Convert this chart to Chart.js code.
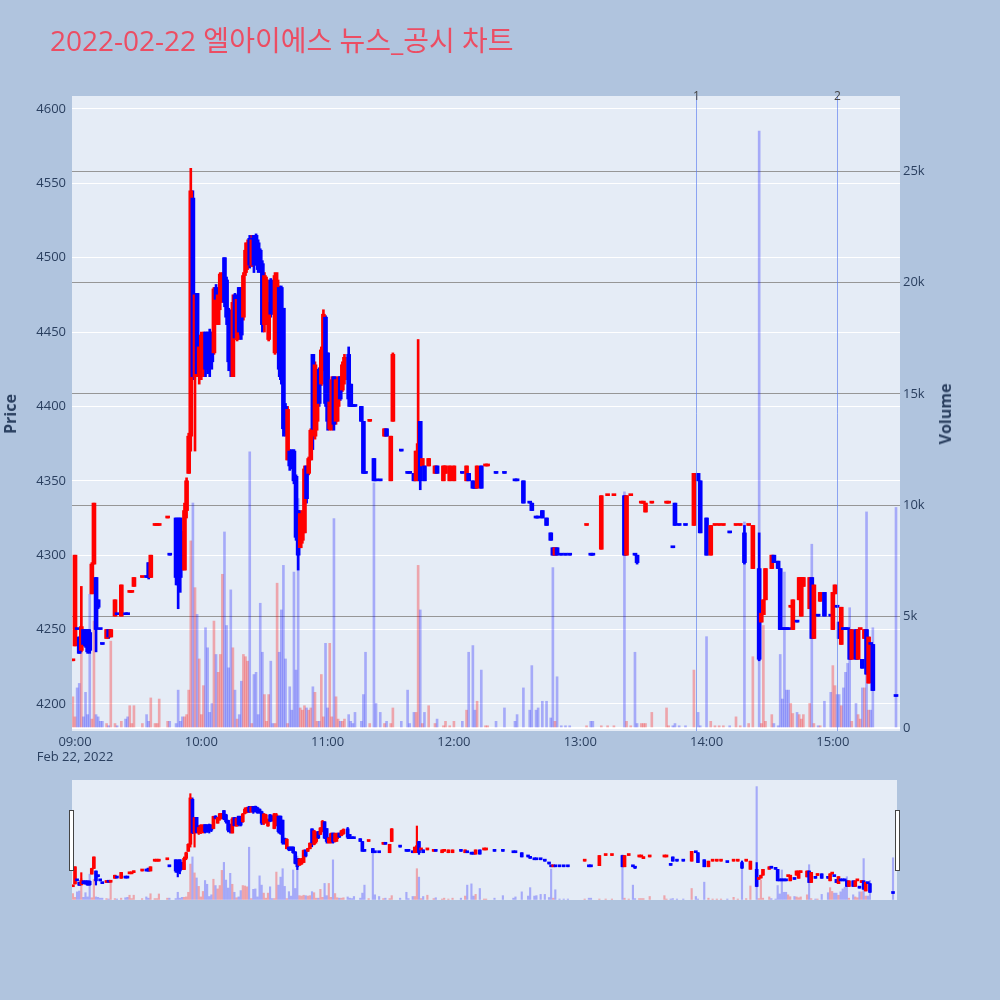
<!DOCTYPE html>
<html>
<head>
<meta charset="utf-8">
<script src="https://cdn.jsdelivr.net/npm/chart.js@4.4.1/dist/chart.umd.min.js"></script>
<style>
  html, body { margin: 0; padding: 0; background: #b0c4de; }
  #wrap { position: relative; width: 1000px; height: 1000px; font-family: "Open Sans", "Noto Sans CJK KR", sans-serif; }
  #wrap canvas { position: absolute; left: 0; }
  #title { position: absolute; left: 50px; top: 19px; font-size: 28px; color: #ec4d63; white-space: nowrap; }
  .axt { position: absolute; font-size: 16px; font-weight: bold; color: #2a3f5f; white-space: nowrap;
         transform: translate(-50%, -50%) rotate(-90deg); }
</style>
</head>
<body>
<div id="wrap">
  <canvas id="main" width="1000" height="1000" style="top:0"></canvas>
  <canvas id="slider" width="1000" height="120" style="top:780px"></canvas>
  <div id="title">2022-02-22 엘아이에스 뉴스_공시 차트</div>
  <div class="axt" style="left:10px;top:414px">Price</div>
  <div class="axt" style="left:945px;top:414px">Volume</div>
</div>
<script>
// 분봉 데이터 (09:00 기준 경과 분)
const minutes = [
  -1, 0, 1, 2, 3, 4, 5, 6, 7, 8,
  9, 10, 11, 12, 13, 15, 16, 17, 19, 20,
  22, 24, 25, 26, 27, 28, 32, 34, 35, 36,
  38, 39, 40, 44, 45, 48, 49, 50, 51, 52,
  53, 54, 55, 56, 57, 58, 59, 60, 61, 62,
  63, 64, 65, 66, 67, 68, 69, 70, 71, 72,
  73, 74, 75, 76, 77, 78, 79, 80, 81, 82,
  83, 84, 85, 86, 87, 88, 89, 90, 91, 92,
  93, 94, 95, 96, 97, 98, 99, 100, 101, 102,
  103, 104, 105, 106, 107, 108, 109, 110, 111, 112,
  113, 114, 115, 116, 117, 118, 119, 120, 121, 122,
  123, 124, 125, 126, 127, 128, 130, 131, 132, 133,
  136, 137, 138, 140, 142, 143, 145, 147, 148, 150,
  151, 155, 158, 159, 161, 162, 163, 164, 165, 166,
  168, 171, 172, 175, 176, 178, 180, 184, 186, 187,
  189, 190, 191, 193, 195, 196, 200, 204, 209, 210,
  213, 216, 217, 219, 220, 222, 224, 226, 227, 228,
  229, 231, 233, 235, 243, 245, 246, 250, 253, 256,
  261, 262, 264, 266, 267, 269, 270, 271, 274, 281,
  282, 284, 285, 287, 290, 294, 296, 297, 300, 302,
  304, 306, 308, 311, 314, 316, 318, 320, 322, 325,
  326, 327, 328, 331, 332, 334, 335, 336, 337, 338,
  339, 340, 341, 343, 344, 345, 346, 349, 350, 351,
  353, 354, 356, 359, 360, 361, 362, 363, 364, 365,
  366, 367, 368, 369, 371, 372, 373, 374, 375, 376,
  377, 378, 379, 390
];
const opens = [
  4229, 4239, 4250, 4245, 4236, 4250, 4250, 4250, 4248, 4274,
  4294, 4285, 4270, 4250, 4240, 4244, 4250, 4245, 4259, 4260,
  4259, 4260, 4260, 4275, 4275, 4279, 4285, 4286, 4295, 4285,
  4320, 4320, 4320, 4325, 4300, 4325, 4320, 4325, 4315, 4290,
  4330, 4355, 4380, 4540, 4420, 4476, 4420, 4425, 4440, 4450,
  4448, 4450, 4440, 4436, 4480, 4455, 4470, 4475, 4500, 4485,
  4465, 4450, 4420, 4475, 4445, 4480, 4475, 4460, 4490, 4495,
  4513, 4495, 4515, 4515, 4510, 4505, 4496, 4455, 4460, 4445,
  4485, 4480, 4436, 4450, 4480, 4480, 4466, 4400, 4364, 4370,
  4370, 4370, 4353, 4330, 4305, 4310, 4315, 4360, 4355, 4364,
  4435, 4380, 4390, 4425, 4415, 4425, 4460, 4436, 4385, 4390,
  4420, 4390, 4400, 4420, 4411, 4418, 4435, 4415, 4400, 4400,
  4400, 4390, 4355, 4390, 4365, 4350, 4350, 4380, 4385, 4350,
  4390, 4370, 4355, 4355, 4355, 4350, 4360, 4390, 4360, 4360,
  4360, 4355, 4360, 4350, 4355, 4350, 4350, 4355, 4350, 4355,
  4350, 4345, 4345, 4360, 4360, 4360, 4355, 4355, 4350, 4350,
  4350, 4335, 4335, 4325, 4325, 4330, 4325, 4315, 4305, 4300,
  4305, 4300, 4300, 4300, 4320, 4300, 4300, 4304, 4340, 4340,
  4340, 4300, 4340, 4300, 4300, 4335, 4335, 4329, 4335, 4335,
  4335, 4305, 4335, 4320, 4320, 4320, 4355, 4350, 4325, 4300,
  4320, 4320, 4320, 4315, 4320, 4320, 4315, 4320, 4291, 4291,
  4255, 4260, 4270, 4291, 4300, 4296, 4291, 4250, 4250, 4250,
  4250, 4265, 4250, 4255, 4270, 4259, 4279, 4264, 4285, 4244,
  4259, 4269, 4275, 4259, 4250, 4274, 4265, 4255, 4240, 4250,
  4250, 4250, 4250, 4230, 4250, 4230, 4250, 4230, 4244, 4250,
  4214, 4240, 4240, 4205
];
const highs = [
  4230, 4300, 4250, 4245, 4279, 4250, 4250, 4250, 4250, 4295,
  4335, 4285, 4270, 4250, 4240, 4250, 4250, 4250, 4270, 4260,
  4280, 4260, 4260, 4275, 4275, 4285, 4285, 4286, 4295, 4300,
  4320, 4320, 4320, 4325, 4300, 4325, 4325, 4325, 4316, 4335,
  4352, 4382, 4560, 4545, 4476, 4476, 4447, 4450, 4450, 4450,
  4450, 4452, 4450, 4480, 4482, 4476, 4490, 4490, 4500, 4487,
  4466, 4452, 4475, 4476, 4475, 4480, 4480, 4490, 4510, 4512,
  4515, 4515, 4515, 4516, 4512, 4506, 4498, 4490, 4487, 4470,
  4486, 4482, 4490, 4490, 4481, 4481, 4466, 4402, 4400, 4371,
  4371, 4371, 4354, 4330, 4330, 4330, 4360, 4360, 4366, 4385,
  4435, 4430, 4425, 4426, 4440, 4465, 4461, 4436, 4405, 4420,
  4420, 4420, 4420, 4420, 4430, 4435, 4440, 4415, 4400, 4400,
  4400, 4390, 4355, 4390, 4365, 4350, 4350, 4385, 4385, 4380,
  4436, 4370, 4355, 4355, 4355, 4370, 4445, 4390, 4365, 4360,
  4365, 4360, 4360, 4360, 4360, 4360, 4360, 4355, 4360, 4355,
  4350, 4345, 4360, 4360, 4360, 4360, 4355, 4355, 4350, 4350,
  4350, 4335, 4335, 4325, 4325, 4330, 4325, 4315, 4305, 4305,
  4305, 4300, 4300, 4300, 4320, 4300, 4300, 4340, 4340, 4340,
  4340, 4340, 4340, 4300, 4300, 4335, 4335, 4335, 4335, 4335,
  4335, 4305, 4335, 4320, 4320, 4355, 4355, 4350, 4325, 4320,
  4320, 4320, 4320, 4315, 4320, 4320, 4320, 4320, 4320, 4315,
  4261, 4270, 4291, 4300, 4300, 4296, 4291, 4250, 4250, 4250,
  4250, 4265, 4270, 4255, 4285, 4285, 4285, 4285, 4285, 4280,
  4259, 4275, 4275, 4259, 4275, 4280, 4265, 4255, 4265, 4250,
  4250, 4250, 4250, 4250, 4250, 4250, 4250, 4230, 4250, 4250,
  4245, 4240, 4240, 4205
];
const lows = [
  4229, 4239, 4250, 4234, 4235, 4239, 4238, 4234, 4234, 4274,
  4294, 4235, 4264, 4250, 4240, 4244, 4244, 4245, 4259, 4260,
  4259, 4260, 4260, 4275, 4275, 4279, 4285, 4285, 4284, 4285,
  4320, 4320, 4320, 4325, 4300, 4280, 4264, 4275, 4290, 4290,
  4325, 4355, 4370, 4418, 4370, 4420, 4415, 4418, 4420, 4420,
  4422, 4420, 4425, 4435, 4470, 4455, 4465, 4470, 4467, 4455,
  4424, 4420, 4420, 4445, 4444, 4445, 4445, 4458, 4488, 4492,
  4493, 4494, 4490, 4495, 4490, 4490, 4450, 4450, 4455, 4444,
  4460, 4462, 4435, 4445, 4420, 4415, 4380, 4380, 4364, 4357,
  4358, 4348, 4310, 4290, 4305, 4308, 4315, 4335, 4354, 4364,
  4371, 4378, 4384, 4400, 4414, 4424, 4400, 4384, 4384, 4384,
  4384, 4388, 4390, 4404, 4410, 4415, 4400, 4400, 4400, 4400,
  4390, 4355, 4355, 4390, 4350, 4350, 4350, 4380, 4380, 4350,
  4390, 4370, 4355, 4355, 4350, 4350, 4350, 4344, 4360, 4350,
  4360, 4355, 4355, 4350, 4355, 4350, 4350, 4355, 4350, 4350,
  4345, 4345, 4345, 4345, 4360, 4360, 4355, 4355, 4350, 4350,
  4335, 4335, 4330, 4325, 4325, 4325, 4320, 4310, 4300, 4300,
  4300, 4300, 4300, 4300, 4320, 4300, 4300, 4304, 4340, 4340,
  4300, 4300, 4340, 4300, 4294, 4335, 4335, 4329, 4335, 4335,
  4335, 4305, 4320, 4320, 4320, 4320, 4350, 4315, 4300, 4300,
  4320, 4320, 4320, 4315, 4320, 4320, 4294, 4320, 4291, 4229,
  4255, 4260, 4270, 4291, 4295, 4291, 4250, 4250, 4250, 4250,
  4250, 4265, 4250, 4255, 4270, 4259, 4279, 4264, 4244, 4244,
  4259, 4269, 4259, 4259, 4250, 4274, 4265, 4244, 4240, 4250,
  4250, 4250, 4230, 4230, 4230, 4230, 4250, 4224, 4244, 4220,
  4214, 4240, 4209, 4205
];
const closes = [
  4230, 4300, 4250, 4234, 4252, 4240, 4239, 4235, 4236, 4294,
  4335, 4250, 4265, 4250, 4240, 4250, 4245, 4250, 4270, 4260,
  4280, 4260, 4260, 4275, 4275, 4285, 4285, 4285, 4285, 4300,
  4320, 4320, 4320, 4325, 4300, 4285, 4280, 4285, 4295, 4330,
  4350, 4380, 4545, 4420, 4475, 4422, 4440, 4448, 4445, 4425,
  4425, 4430, 4430, 4479, 4472, 4475, 4489, 4488, 4470, 4460,
  4430, 4425, 4470, 4446, 4472, 4450, 4448, 4488, 4505, 4510,
  4495, 4512, 4495, 4500, 4492, 4492, 4455, 4488, 4485, 4468,
  4462, 4465, 4488, 4485, 4425, 4418, 4385, 4382, 4398, 4360,
  4360, 4350, 4312, 4300, 4328, 4325, 4358, 4338, 4365, 4384,
  4385, 4428, 4422, 4402, 4438, 4462, 4402, 4390, 4403, 4418,
  4388, 4418, 4418, 4405, 4428, 4433, 4405, 4400, 4400, 4400,
  4390, 4355, 4355, 4390, 4350, 4350, 4350, 4385, 4380, 4380,
  4435, 4370, 4355, 4355, 4350, 4370, 4375, 4350, 4365, 4350,
  4365, 4360, 4355, 4360, 4360, 4360, 4360, 4355, 4360, 4350,
  4345, 4345, 4360, 4345, 4360, 4360, 4355, 4355, 4350, 4350,
  4335, 4335, 4330, 4325, 4325, 4325, 4320, 4310, 4300, 4305,
  4300, 4300, 4300, 4300, 4320, 4300, 4300, 4340, 4340, 4340,
  4300, 4340, 4340, 4300, 4295, 4335, 4335, 4335, 4335, 4335,
  4335, 4305, 4320, 4320, 4320, 4355, 4350, 4315, 4300, 4320,
  4320, 4320, 4320, 4315, 4320, 4320, 4295, 4320, 4320, 4230,
  4261, 4270, 4291, 4300, 4295, 4291, 4250, 4250, 4250, 4250,
  4250, 4265, 4270, 4255, 4285, 4285, 4285, 4285, 4244, 4280,
  4259, 4275, 4259, 4259, 4275, 4280, 4265, 4244, 4265, 4250,
  4250, 4250, 4230, 4250, 4230, 4250, 4250, 4224, 4250, 4220,
  4245, 4240, 4209, 4205
];
const volumes = [
  1400, 500, 1800, 2000, 5000, 500, 1600, 600, 6000, 400,
  4800, 600, 500, 300, 300, 200, 100, 3900, 200, 100,
  300, 400, 500, 1000, 200, 1000, 200, 600, 300, 1350,
  200, 200, 1300, 300, 300, 200, 1700, 300, 500, 500,
  600, 1700, 8400, 10100, 6300, 5100, 3100, 600, 1900, 4500,
  3600, 700, 1100, 4800, 3300, 2500, 3300, 6900, 8800, 4600,
  2700, 6200, 3600, 1700, 400, 600, 2100, 3300, 3200, 3000,
  12400, 200, 2400, 2500, 600, 5600, 3400, 1500, 300, 1500,
  3000, 200, 200, 6500, 3400, 5300, 7300, 3100, 200, 1850,
  800, 7000, 2600, 10300, 900, 800, 1000, 900, 800, 900,
  1850, 1600, 300, 300, 2400, 500, 3800, 900, 3800, 500,
  9400, 1400, 400, 300, 300, 400, 600, 300, 200, 700,
  300, 1500, 3400, 200, 11000, 1100, 700, 200, 300, 200,
  900, 300, 1700, 200, 700, 700, 7300, 5300, 200, 700,
  1000, 200, 400, 100, 300, 100, 300, 300, 800, 3400,
  3700, 800, 1200, 2600, 100, 100, 300, 900, 300, 600,
  1800, 800, 2800, 800, 900, 1200, 1200, 450, 7200, 300,
  2300, 100, 100, 100, 100, 300, 300, 100, 100, 100,
  10600, 300, 100, 3400, 200, 200, 200, 200, 700, 900,
  100, 100, 200, 100, 100, 2600, 700, 100, 4100, 300,
  100, 100, 100, 100, 500, 100, 9250, 200, 3200, 26800,
  200, 4600, 300, 600, 200, 100, 3300, 1300, 7000, 1700,
  1700, 1100, 650, 700, 600, 400, 600, 1100, 8250, 200,
  100, 100, 1200, 1600, 2800, 1900, 1500, 1500, 1000, 1800,
  2500, 2900, 5400, 300, 1100, 600, 400, 1800, 1800, 9700,
  800, 800, 4500, 9900
];

// 축 눈금 / 뉴스 표시
const hourTicks = [0, 60, 120, 180, 240, 300, 360];
const hourLabels = ['09:00', '10:00', '11:00', '12:00', '13:00', '14:00', '15:00'];
const dateLabel = 'Feb 22, 2022';
const priceTicks = [4200, 4250, 4300, 4350, 4400, 4450, 4500, 4550, 4600];
const volumeTicks = [0, 5000, 10000, 15000, 20000, 25000];
const volumeLabels = ['0', '5k', '10k', '15k', '20k', '25k'];
const newsMinutes = [295, 362];
const newsLabels = ['1', '2'];

const X_RANGE = [-1.43, 391.9];
const PRICE_RANGE = [4181.8, 4608.7];
const VOL_RANGE = [-135, 28370];

// 상승(빨강) / 하락(파랑) — 시가=종가면 직전 종가와 비교
const up = [];
closes.forEach((c, i) => {
  const o = opens[i];
  if (c > o) up.push(true);
  else if (c < o) up.push(false);
  else if (i > 0 && c !== closes[i - 1]) up.push(c > closes[i - 1]);
  else up.push(i > 0 ? up[i - 1] : true);
});
const candleColors = up.map(u => u ? '#ff0000' : '#0000ff');
const volColors = up.map(u => u ? 'rgba(255,0,0,0.3)' : 'rgba(0,0,255,0.28)');

function makeDatasets(wickW, bodyW, volW) {
  return [
    {
      label: 'Volume', yAxisID: 'yv', order: 3, grouped: false, barThickness: volW,
      data: minutes.map((m, i) => ({ x: m, y: volumes[i] })),
      backgroundColor: volColors
    },
    {
      label: 'wick', yAxisID: 'y', order: 2, grouped: false, barThickness: wickW,
      data: minutes.map((m, i) => ({ x: m, y: [lows[i], highs[i]] })),
      backgroundColor: candleColors
    },
    {
      label: 'body', yAxisID: 'y', order: 1, grouped: false, barThickness: bodyW, minBarLength: 2,
      data: minutes.map((m, i) => ({ x: m, y: [Math.min(opens[i], closes[i]), Math.max(opens[i], closes[i])] })),
      backgroundColor: candleColors
    }
  ];
}

// 플롯 영역 배경
const plotBg = {
  id: 'plotBg',
  beforeDraw(chart) {
    const a = chart.chartArea, ctx = chart.ctx;
    ctx.save();
    ctx.fillStyle = '#e5ecf6';
    ctx.fillRect(a.left, a.top, a.right - a.left, a.bottom - a.top);
    ctx.restore();
  }
};

// 뉴스/공시 세로선
const newsLines = {
  id: 'newsLines',
  afterDatasetsDraw(chart) {
    const xs = chart.scales.x, a = chart.chartArea, ctx = chart.ctx;
    ctx.save();
    newsMinutes.forEach((t, i) => {
      const px = Math.round(xs.getPixelForValue(t)) + 0.5;
      ctx.strokeStyle = 'rgba(90,125,240,0.65)';
      ctx.lineWidth = 1;
      ctx.beginPath();
      ctx.moveTo(px, a.top);
      ctx.lineTo(px, a.bottom);
      ctx.stroke();
      ctx.fillStyle = '#444';
      ctx.font = '12px "Open Sans"';
      ctx.textAlign = 'center';
      ctx.textBaseline = 'middle';
      ctx.fillText(newsLabels[i], px, a.top + 1);
    });
    ctx.restore();
  }
};

// 레인지 슬라이더 핸들
const sliderHandles = {
  id: 'sliderHandles',
  afterDraw(chart) {
    const a = chart.chartArea, ctx = chart.ctx;
    ctx.save();
    ctx.fillStyle = '#fff';
    ctx.strokeStyle = '#444';
    ctx.lineWidth = 1;
    [a.left - 2.5, a.right - 1.5].forEach(x => {
      ctx.fillRect(x, 30.5, 4, 60);
      ctx.strokeRect(x, 30.5, 4, 60);
    });
    ctx.restore();
  }
};

const tickFont = { family: 'Open Sans', size: 13 };
const tickColor = '#2a3f5f';

new Chart(document.getElementById('main').getContext('2d'), {
  type: 'bar',
  data: { datasets: makeDatasets(2, 4, 2) },
  options: {
    responsive: false,
    animation: false,
    layout: { padding: { top: 96, left: 0, right: 42, bottom: 0 } },
    plugins: { legend: { display: false }, tooltip: { enabled: false } },
    scales: {
      x: {
        type: 'linear', min: X_RANGE[0], max: X_RANGE[1], offset: false,
        grid: { display: false, drawTicks: false },
        border: { display: false },
        afterBuildTicks: s => { s.ticks = hourTicks.map(v => ({ value: v })); },
        ticks: {
          color: tickColor, font: tickFont, maxRotation: 0, autoSkip: false, padding: 3,
          callback: (v, i) => i === 0 ? [hourLabels[0], dateLabel] : hourLabels[i]
        },
        afterFit: s => { s.height = 269; }
      },
      y: {
        position: 'left', min: PRICE_RANGE[0], max: PRICE_RANGE[1],
        grid: { color: '#ffffff', lineWidth: 1, drawTicks: false },
        border: { display: false },
        afterBuildTicks: s => { s.ticks = priceTicks.map(v => ({ value: v })); },
        ticks: { color: tickColor, font: tickFont, padding: 6, callback: v => String(v) },
        afterFit: s => { s.width = 72; }
      },
      yv: {
        position: 'right', min: VOL_RANGE[0], max: VOL_RANGE[1],
        grid: {
          drawTicks: false,
          color: c => c.tick && c.tick.value === 0 ? '#ffffff' : '#969696',
          lineWidth: c => c.tick && c.tick.value === 0 ? 2 : 1
        },
        border: { display: false },
        afterBuildTicks: s => { s.ticks = volumeTicks.map(v => ({ value: v })); },
        ticks: { color: tickColor, font: tickFont, padding: 3, callback: (v, i) => volumeLabels[i] },
        afterFit: s => { s.width = 58; }
      }
    }
  },
  plugins: [plotBg, newsLines]
});

new Chart(document.getElementById('slider').getContext('2d'), {
  type: 'bar',
  data: { datasets: makeDatasets(1.5, 3, 1.5) },
  options: {
    responsive: false,
    animation: false,
    layout: { padding: { top: 0, left: 72, right: 103, bottom: 0 } },
    plugins: { legend: { display: false }, tooltip: { enabled: false } },
    scales: {
      x: { type: 'linear', min: X_RANGE[0], max: X_RANGE[1], offset: false, display: false },
      y: { min: PRICE_RANGE[0], max: PRICE_RANGE[1], display: false },
      yv: { position: 'right', min: VOL_RANGE[0], max: VOL_RANGE[1], display: false }
    }
  },
  plugins: [plotBg, sliderHandles]
});
</script>
</body>
</html>
